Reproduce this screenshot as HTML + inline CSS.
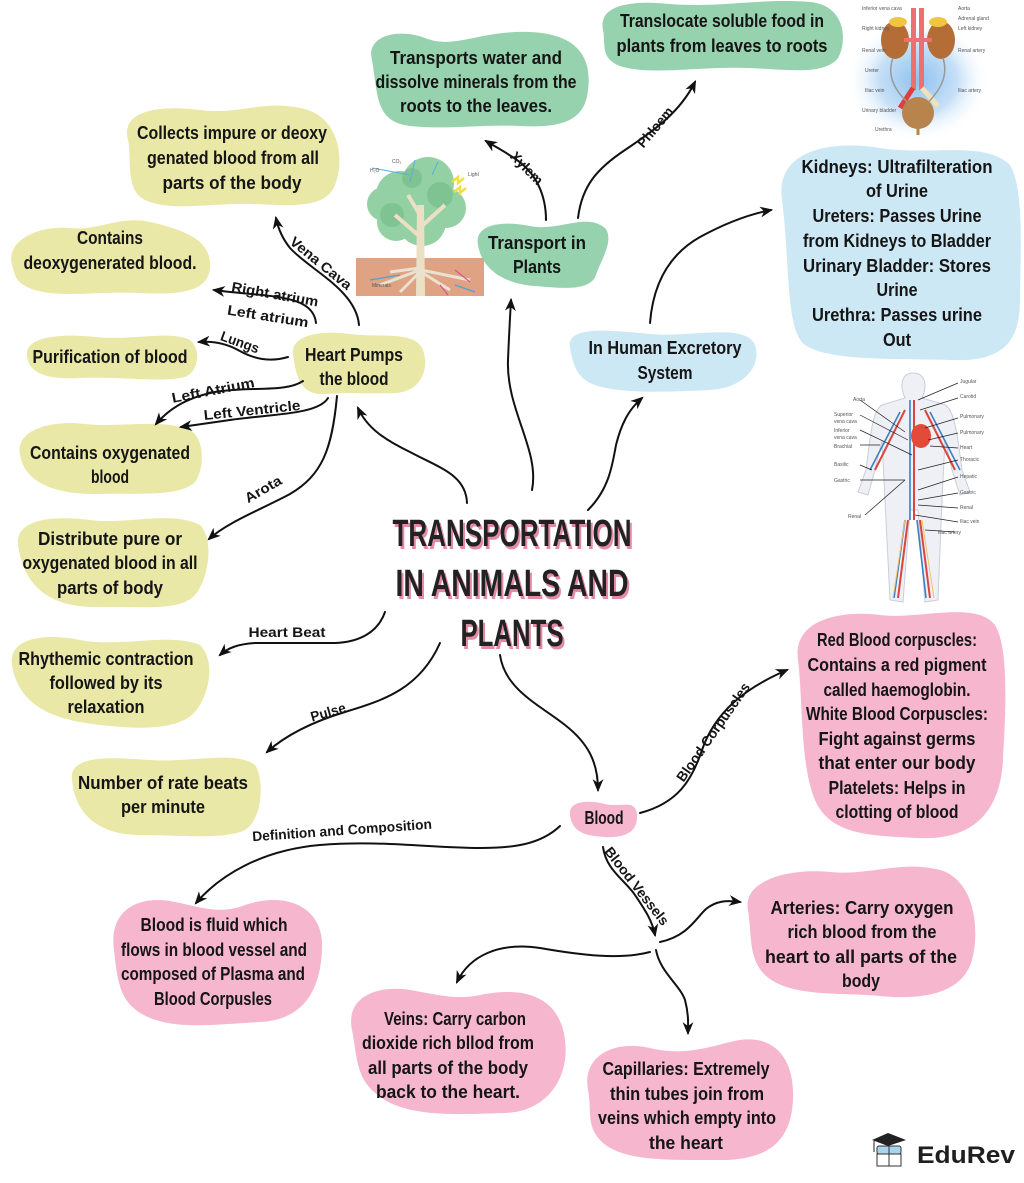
<!DOCTYPE html>
<html>
<head>
<meta charset="utf-8">
<style>
  html,body{margin:0;padding:0;background:#fff;}
  svg{display:block;}
  .t{font-family:"Liberation Sans",sans-serif;font-weight:bold;font-size:18px;text-anchor:middle;fill:#151515;}
  .l{font-family:"Liberation Sans",sans-serif;font-weight:bold;font-size:14px;text-anchor:middle;fill:#151515;}
  .ti{font-family:"Liberation Sans",sans-serif;font-weight:bold;font-size:38px;text-anchor:middle;}
  .tiny{font-family:"Liberation Sans",sans-serif;font-size:5px;fill:#555;}
  .c{fill:none;stroke:#111;stroke-width:2;stroke-linecap:round;}
</style>
</head>
<body>
<svg width="1024" height="1183" viewBox="0 0 1024 1183" xmlns="http://www.w3.org/2000/svg">
<defs>
  <marker id="ah" viewBox="0 0 12 10" refX="10" refY="5" markerWidth="13" markerHeight="11" markerUnits="userSpaceOnUse" orient="auto">
    <path d="M0,0 L12,5 L0,10 L3.5,5 Z" fill="#111"/>
  </marker>
  <radialGradient id="kg" cx="50%" cy="50%" r="50%">
    <stop offset="0" stop-color="#8fc1ef"/>
    <stop offset="0.55" stop-color="#c6e0f7"/>
    <stop offset="1" stop-color="#ffffff" stop-opacity="0"/>
  </radialGradient>
</defs>
<rect width="1024" height="1183" fill="#fff"/>

<!-- ============ BLOBS ============ -->
<g>
  <!-- green -->
  <path fill="#97d2ae" d="M372,60 C365,35 400,28 425,38 C455,50 480,30 530,32 C580,34 592,60 588,90 C585,122 560,128 520,126 C480,124 450,130 410,126 C375,122 378,95 372,60 Z"/>
  <path fill="#97d2ae" d="M603,30 C598,5 630,0 670,4 C720,8 760,-2 810,2 C845,5 848,40 838,58 C825,75 790,70 750,68 C700,66 650,76 620,66 C600,58 606,45 603,30 Z"/>
  <path fill="#97d2ae" d="M478,245 C474,225 500,220 530,226 C560,232 585,212 605,228 C615,240 600,262 596,275 C590,292 560,288 535,286 C505,284 482,270 478,245 Z"/>
  <!-- yellow -->
  <path fill="#e9e8a7" d="M128,140 C120,110 160,105 200,110 C240,115 260,100 300,108 C340,115 345,160 335,185 C325,210 290,205 250,204 C210,203 170,212 145,200 C125,190 132,160 128,140 Z"/>
  <path fill="#e9e8a7" d="M12,265 C5,240 40,225 70,228 C100,231 120,215 150,222 C185,230 212,240 210,268 C208,292 180,295 140,293 C100,291 60,298 35,290 C15,284 15,275 12,265 Z"/>
  <path fill="#e9e8a7" d="M27,355 C25,337 60,333 95,337 C130,341 170,330 190,340 C202,350 198,372 185,377 C160,383 120,376 80,378 C40,380 28,370 27,355 Z"/>
  <path fill="#e9e8a7" d="M293,355 C290,335 320,330 350,334 C380,338 415,330 423,350 C430,370 420,392 395,393 C370,394 345,392 325,394 C300,396 296,375 293,355 Z"/>
  <path fill="#e9e8a7" d="M20,455 C15,430 50,420 85,424 C120,428 160,418 190,430 C206,440 204,470 195,482 C180,497 140,493 100,494 C60,495 25,485 20,455 Z"/>
  <path fill="#e9e8a7" d="M18,545 C15,520 50,515 90,520 C130,525 170,510 200,525 C215,540 208,580 195,595 C180,612 140,606 100,607 C60,608 25,595 18,545 Z"/>
  <path fill="#e9e8a7" d="M12,665 C8,640 40,632 80,640 C120,648 170,632 200,645 C215,660 210,690 198,708 C185,728 150,730 110,726 C70,722 20,715 12,665 Z"/>
  <path fill="#e9e8a7" d="M72,780 C68,755 110,757 150,760 C190,763 235,750 255,765 C265,780 262,820 245,830 C225,840 180,835 140,835 C100,835 75,815 72,780 Z"/>
  <!-- blue -->
  <path fill="#cde8f5" d="M782,200 C775,150 830,140 880,148 C930,156 985,140 1010,165 C1025,190 1020,260 1020,300 C1020,345 1000,362 950,360 C900,358 830,362 805,345 C785,330 790,260 782,200 Z"/>
  <path fill="#cde8f5" d="M570,348 C565,325 610,330 650,334 C690,338 745,322 755,345 C762,365 745,388 710,390 C670,392 620,394 595,385 C575,378 573,362 570,348 Z"/>
  <!-- pink -->
  <path fill="#f5b6ce" d="M570,815 C568,800 590,800 605,804 C620,808 636,798 637,815 C638,832 625,838 605,837 C585,836 572,832 570,815 Z"/>
  <path fill="#f5b6ce" d="M798,660 C792,620 840,610 880,615 C920,620 975,600 995,625 C1010,650 1005,720 1003,760 C1000,815 970,840 920,838 C870,836 830,835 815,800 C800,765 803,700 798,660 Z"/>
  <path fill="#f5b6ce" d="M748,910 C742,880 790,868 830,872 C870,876 900,860 940,870 C975,880 980,930 972,960 C962,995 920,1000 880,996 C840,992 790,998 765,975 C748,958 752,935 748,910 Z"/>
  <path fill="#f5b6ce" d="M114,950 C108,905 145,895 175,902 C200,907 220,915 245,905 C290,890 325,910 322,950 C320,995 300,1020 260,1022 C220,1024 180,1030 150,1018 C120,1005 118,985 114,950 Z"/>
  <path fill="#f5b6ce" d="M352,1030 C345,995 380,985 410,990 C440,995 455,1000 480,995 C530,985 560,1000 565,1040 C570,1080 545,1112 505,1113 C465,1114 415,1118 385,1100 C355,1082 358,1060 352,1030 Z"/>
  <path fill="#f5b6ce" d="M588,1090 C582,1055 615,1040 650,1048 C680,1055 700,1050 730,1042 C775,1030 795,1060 793,1100 C791,1140 770,1160 720,1160 C670,1160 620,1162 600,1140 C586,1125 592,1110 588,1090 Z"/>
</g>

<!-- ============ IMAGES ============ -->
<!-- Tree -->
<g>
  <rect x="356" y="258" width="128" height="38" fill="#dfa384"/>
  <g fill="#93d0a3">
    <circle cx="400" cy="195" r="24"/>
    <circle cx="428" cy="183" r="26"/>
    <circle cx="446" cy="208" r="20"/>
    <circle cx="396" cy="222" r="19"/>
    <circle cx="422" cy="222" r="24"/>
    <circle cx="384" cy="204" r="17"/>
  </g>
  <g fill="#7cc190" opacity="0.8">
    <circle cx="392" cy="215" r="12"/>
    <circle cx="440" cy="195" r="13"/>
    <circle cx="412" cy="178" r="10"/>
  </g>
  <path d="M416,296 L417,205 L424,205 L425,296 Z" fill="#ebdfc6"/>
  <path d="M418,235 L395,215 M423,225 L445,205 M420,215 L408,195" stroke="#ebdfc6" stroke-width="4" fill="none"/>
  <path d="M420,270 L380,285 M420,272 L400,292 M421,272 L450,290 M421,270 L470,280 M420,268 L390,272" stroke="#e9e2d3" stroke-width="3" fill="none"/>
  <path d="M372,168 L410,175 M415,160 L410,182 M438,162 L432,175" stroke="#5ab0d8" stroke-width="1" fill="none"/>
  <path d="M370,280 L400,275 M455,285 L475,292" stroke="#4aa3d0" stroke-width="1.2" fill="none"/>
  <path d="M455,270 L470,282 M440,285 L448,295" stroke="#e2508c" stroke-width="1.2" fill="none"/>
  <path d="M452,182 L458,177 L458,183 L464,178 M454,192 L460,187 L460,193 L466,188" stroke="#efe040" stroke-width="2.5" fill="none"/>
  <text x="370" y="172" class="tiny">H₂O</text>
  <text x="392" y="163" class="tiny">CO₂</text>
  <text x="468" y="176" class="tiny">Light</text>
  <text x="372" y="287" class="tiny">Minerals</text>
</g>

<!-- Kidney -->
<g>
  <ellipse cx="918" cy="80" rx="72" ry="62" fill="url(#kg)"/>
  <ellipse cx="895" cy="40" rx="14" ry="19" fill="#b56d37"/>
  <ellipse cx="941" cy="40" rx="14" ry="19" fill="#b56d37"/>
  <ellipse cx="898" cy="22" rx="9" ry="5" fill="#f0c641"/>
  <ellipse cx="938" cy="22" rx="9" ry="5" fill="#f0c641"/>
  <rect x="911" y="8" width="5" height="82" fill="#ef6e6e"/>
  <rect x="919" y="8" width="5" height="82" fill="#ef6e6e"/>
  <rect x="904" y="38" width="28" height="4" fill="#ef6e6e"/>
  <path d="M913,88 L900,108" stroke="#e23c3c" stroke-width="5" fill="none"/>
  <path d="M922,88 L938,106" stroke="#efe2b8" stroke-width="5" fill="none"/>
  <path d="M893,58 C885,80 900,95 910,105 M943,58 C950,80 935,95 926,105" stroke="#999" stroke-width="1.5" fill="none"/>
  <circle cx="918" cy="113" r="16" fill="#b8844e"/>
  <path d="M918,128 L918,135" stroke="#b8844e" stroke-width="3"/>
  <text x="862" y="10" class="tiny">Inferior vena cava</text>
  <text x="958" y="10" class="tiny">Aorta</text>
  <text x="958" y="20" class="tiny">Adrenal gland</text>
  <text x="862" y="30" class="tiny">Right kidney</text>
  <text x="958" y="30" class="tiny">Left kidney</text>
  <text x="862" y="52" class="tiny">Renal vein</text>
  <text x="958" y="52" class="tiny">Renal artery</text>
  <text x="865" y="72" class="tiny">Ureter</text>
  <text x="865" y="92" class="tiny">Iliac vein</text>
  <text x="958" y="92" class="tiny">Iliac artery</text>
  <text x="862" y="112" class="tiny">Urinary bladder</text>
  <text x="875" y="131" class="tiny">Urethra</text>
</g>

<!-- Human body -->
<g>
  <path d="M913,373 C925,373 928,385 922,398 L945,405 C955,410 958,440 962,470 L970,492 L960,495 L952,470 L945,440 L942,500 L938,600 L925,602 L918,510 L910,510 L903,602 L890,600 L885,500 L882,440 L875,470 L868,495 L858,492 L866,470 C870,440 872,410 882,405 L905,398 C899,385 902,373 913,373 Z" fill="#eef0f5" stroke="#c9ced8" stroke-width="1"/>
  <path d="M914,400 L914,520 M908,520 L898,598 M920,520 L930,598 M905,410 L875,470 M925,410 L955,470" stroke="#d9463b" stroke-width="2" fill="none"/>
  <path d="M910,400 L910,520 M905,520 L894,598 M917,520 L926,598 M900,412 L870,470 M930,412 L960,470" stroke="#3b7fc4" stroke-width="1.6" fill="none"/>
  <path d="M905,520 L893,598 M922,520 L934,598" stroke="#f0c36b" stroke-width="1" fill="none"/>
  <ellipse cx="921" cy="436" rx="10" ry="12" fill="#e44a38"/>
  <g stroke="#222" stroke-width="0.7" fill="none">
    <path d="M860,400 L905,432 M860,415 L908,440 M860,430 L912,455 M860,445 L880,445 M860,465 L872,470 M860,480 L905,480 M958,383 L918,400 M958,398 L920,410 M958,418 L925,428 M958,433 L928,440 M958,448 L930,446 M958,460 L918,470 M958,477 L918,490 M958,493 L918,500 M958,508 L918,505 M958,522 L915,515 M955,532 L925,530 M865,515 L905,480"/>
  </g>
  <text x="853" y="401" class="tiny">Aorta</text>
  <text x="834" y="416" class="tiny">Superior</text>
  <text x="834" y="423" class="tiny">vena cava</text>
  <text x="834" y="432" class="tiny">Inferior</text>
  <text x="834" y="439" class="tiny">vena cava</text>
  <text x="834" y="448" class="tiny">Brachial</text>
  <text x="834" y="466" class="tiny">Basilic</text>
  <text x="834" y="482" class="tiny">Gastric</text>
  <text x="848" y="518" class="tiny">Renal</text>
  <text x="960" y="383" class="tiny">Jugular</text>
  <text x="960" y="398" class="tiny">Carotid</text>
  <text x="960" y="418" class="tiny">Pulmonary</text>
  <text x="960" y="434" class="tiny">Pulmonary</text>
  <text x="960" y="449" class="tiny">Heart</text>
  <text x="960" y="461" class="tiny">Thoracic</text>
  <text x="960" y="478" class="tiny">Hepatic</text>
  <text x="960" y="494" class="tiny">Gastric</text>
  <text x="960" y="509" class="tiny">Renal</text>
  <text x="960" y="523" class="tiny">Iliac vein</text>
  <text x="938" y="534" class="tiny">Iliac artery</text>
</g>

<!-- ============ CONNECTORS ============ -->
<g class="c" marker-end="url(#ah)">
  <path class="c" marker-end="url(#ah)" d="M359,325 C356,290 310,270 290,248 C282,238 278,228 276,218"/>
  <path class="c" marker-end="url(#ah)" d="M316,323 C314,303 292,298 262,295 C240,293 228,292 214,290"/>
  <path class="c" marker-end="url(#ah)" d="M288,357 C268,363 252,358 238,350 C225,343 212,341 199,342"/>
  <path class="c" marker-end="url(#ah)" d="M303,381 C285,393 250,386 215,392 C185,398 168,410 156,424"/>
  <path class="c" marker-end="url(#ah)" d="M328,398 C318,415 270,414 230,420 C210,423 195,425 181,427"/>
  <path class="c" marker-end="url(#ah)" d="M337,396 C332,450 322,475 290,494 C260,510 228,522 209,539"/>
  <path class="c" marker-end="url(#ah)" d="M467,503 C466,475 440,468 410,452 C385,440 367,428 358,408"/>
  <path class="c" marker-end="url(#ah)" d="M532,490 C540,450 506,410 508,360 C509,335 510,318 511,300"/>
  <path class="c" marker-end="url(#ah)" d="M588,510 C608,490 612,468 616,445 C621,425 628,410 642,398"/>
  <path class="c" marker-end="url(#ah)" d="M546,220 C546,195 536,172 514,158 C502,150 494,146 486,141"/>
  <path class="c" marker-end="url(#ah)" d="M578,218 C582,185 598,168 625,150 C655,130 680,112 695,82"/>
  <path class="c" marker-end="url(#ah)" d="M650,323 C653,285 668,255 700,237 C722,225 745,215 771,210"/>
  <path class="c" marker-end="url(#ah)" d="M385,612 C378,632 360,642 335,643 L255,643 C238,644 228,648 220,655"/>
  <path class="c" marker-end="url(#ah)" d="M440,643 C420,688 385,700 345,712 C312,722 286,735 267,752"/>
  <path class="c" marker-end="url(#ah)" d="M500,655 C505,690 540,705 565,725 C588,743 598,762 598,790"/>
  <path class="c" marker-end="url(#ah)" d="M560,826 C540,845 512,848 480,848 C430,848 380,840 320,845 C262,850 220,875 196,903"/>
  <path class="c" marker-end="url(#ah)" d="M640,813 C678,803 692,780 702,750 C715,712 745,688 787,670"/>
  <path class="c" marker-end="url(#ah)" d="M603,847 C606,870 625,880 635,895 C645,910 652,920 655,935"/>
  <path class="c" marker-end="url(#ah)" d="M660,942 C688,936 696,918 706,909 C716,901 726,900 740,902"/>
  <path class="c" marker-end="url(#ah)" d="M650,952 C620,960 580,955 540,948 C500,942 470,955 457,982"/>
  <path class="c" marker-end="url(#ah)" d="M656,950 C660,972 680,985 685,1000 C689,1015 688,1025 688,1033"/>
</g>

<!-- ============ CONNECTOR LABELS ============ -->
<g>
  <text class="l" transform="translate(321,263) rotate(39)" x="0" y="5" textLength="75" lengthAdjust="spacingAndGlyphs">Vena Cava</text>
  <text class="l" transform="translate(275,294) rotate(10)" x="0" y="5" textLength="88" lengthAdjust="spacingAndGlyphs">Right atrium</text>
  <text class="l" transform="translate(268,316) rotate(9)" x="0" y="5" textLength="82" lengthAdjust="spacingAndGlyphs">Left atrium</text>
  <text class="l" transform="translate(240,342) rotate(20)" x="0" y="5" textLength="40" lengthAdjust="spacingAndGlyphs">Lungs</text>
  <text class="l" transform="translate(213,390) rotate(-11)" x="0" y="5" textLength="84" lengthAdjust="spacingAndGlyphs">Left Atrium</text>
  <text class="l" transform="translate(252,410) rotate(-6)" x="0" y="5" textLength="97" lengthAdjust="spacingAndGlyphs">Left Ventricle</text>
  <text class="l" transform="translate(263,489) rotate(-30)" x="0" y="5" textLength="40" lengthAdjust="spacingAndGlyphs">Arota</text>
  <text class="l" transform="translate(287,632)" x="0" y="5" textLength="77" lengthAdjust="spacingAndGlyphs">Heart Beat</text>
  <text class="l" transform="translate(328,712) rotate(-16)" x="0" y="5" textLength="36" lengthAdjust="spacingAndGlyphs">Pulse</text>
  <text class="l" transform="translate(342,830) rotate(-4)" x="0" y="5" textLength="180" lengthAdjust="spacingAndGlyphs">Definition and Composition</text>
  <text class="l" transform="translate(527,168) rotate(46)" x="0" y="5" textLength="40" lengthAdjust="spacingAndGlyphs">Xylem</text>
  <text class="l" transform="translate(655,127) rotate(-50)" x="0" y="5" textLength="48" lengthAdjust="spacingAndGlyphs">Phloem</text>
  <text class="l" transform="translate(713,732) rotate(-55)" x="0" y="5" textLength="117" lengthAdjust="spacingAndGlyphs">Blood Corpuscles</text>
  <text class="l" transform="translate(637,886) rotate(52)" x="0" y="5" textLength="95" lengthAdjust="spacingAndGlyphs">Blood Vessels</text>
</g>

<!-- ============ NODE TEXT ============ -->
<g>
  <!-- green -->
  <text class="t" x="476" y="64" textLength="172" lengthAdjust="spacingAndGlyphs">Transports water and</text>
  <text class="t" x="476" y="88" textLength="201" lengthAdjust="spacingAndGlyphs">dissolve minerals from the</text>
  <text class="t" x="476" y="112" textLength="152" lengthAdjust="spacingAndGlyphs">roots to the leaves.</text>

  <text class="t" x="722" y="27" textLength="204" lengthAdjust="spacingAndGlyphs">Translocate soluble food in</text>
  <text class="t" x="722" y="52" textLength="211" lengthAdjust="spacingAndGlyphs">plants from leaves to roots</text>

  <text class="t" x="537" y="249" textLength="98" lengthAdjust="spacingAndGlyphs">Transport in</text>
  <text class="t" x="537" y="273" textLength="48" lengthAdjust="spacingAndGlyphs">Plants</text>

  <!-- yellow -->
  <text class="t" x="232" y="139" textLength="190" lengthAdjust="spacingAndGlyphs">Collects impure or deoxy</text>
  <text class="t" x="233" y="164" textLength="172" lengthAdjust="spacingAndGlyphs">genated blood from all</text>
  <text class="t" x="232" y="189" textLength="139" lengthAdjust="spacingAndGlyphs">parts of the body</text>

  <text class="t" x="110" y="244" textLength="66" lengthAdjust="spacingAndGlyphs">Contains</text>
  <text class="t" x="110" y="269" textLength="173" lengthAdjust="spacingAndGlyphs">deoxygenerated blood.</text>

  <text class="t" x="110" y="363" textLength="155" lengthAdjust="spacingAndGlyphs">Purification of blood</text>

  <text class="t" x="354" y="361" textLength="98" lengthAdjust="spacingAndGlyphs">Heart Pumps</text>
  <text class="t" x="354" y="385" textLength="69" lengthAdjust="spacingAndGlyphs">the blood</text>

  <text class="t" x="110" y="459" textLength="160" lengthAdjust="spacingAndGlyphs">Contains oxygenated</text>
  <text class="t" x="110" y="483" textLength="38" lengthAdjust="spacingAndGlyphs">blood</text>

  <text class="t" x="110" y="545" textLength="144" lengthAdjust="spacingAndGlyphs">Distribute pure or</text>
  <text class="t" x="110" y="569" textLength="175" lengthAdjust="spacingAndGlyphs">oxygenated blood in all</text>
  <text class="t" x="110" y="594" textLength="106" lengthAdjust="spacingAndGlyphs">parts of body</text>

  <text class="t" x="106" y="665" textLength="175" lengthAdjust="spacingAndGlyphs">Rhythemic contraction</text>
  <text class="t" x="106" y="689" textLength="113" lengthAdjust="spacingAndGlyphs">followed by its</text>
  <text class="t" x="106" y="713" textLength="77" lengthAdjust="spacingAndGlyphs">relaxation</text>

  <text class="t" x="163" y="789" textLength="170" lengthAdjust="spacingAndGlyphs">Number of rate beats</text>
  <text class="t" x="163" y="813" textLength="84" lengthAdjust="spacingAndGlyphs">per minute</text>

  <!-- blue -->
  <text class="t" x="897" y="173" textLength="191" lengthAdjust="spacingAndGlyphs">Kidneys: Ultrafilteration</text>
  <text class="t" x="897" y="197" textLength="62" lengthAdjust="spacingAndGlyphs">of Urine</text>
  <text class="t" x="897" y="222" textLength="169" lengthAdjust="spacingAndGlyphs">Ureters: Passes Urine</text>
  <text class="t" x="897" y="247" textLength="188" lengthAdjust="spacingAndGlyphs">from Kidneys to Bladder</text>
  <text class="t" x="897" y="272" textLength="188" lengthAdjust="spacingAndGlyphs">Urinary Bladder: Stores</text>
  <text class="t" x="897" y="296" textLength="41" lengthAdjust="spacingAndGlyphs">Urine</text>
  <text class="t" x="897" y="321" textLength="170" lengthAdjust="spacingAndGlyphs">Urethra: Passes urine</text>
  <text class="t" x="897" y="346" textLength="28" lengthAdjust="spacingAndGlyphs">Out</text>

  <text class="t" x="665" y="354" textLength="153" lengthAdjust="spacingAndGlyphs">In Human Excretory</text>
  <text class="t" x="665" y="379" textLength="55" lengthAdjust="spacingAndGlyphs">System</text>

  <!-- pink -->
  <text class="t" x="604" y="824" textLength="39" lengthAdjust="spacingAndGlyphs">Blood</text>

  <text class="t" x="897" y="646" textLength="160" lengthAdjust="spacingAndGlyphs">Red Blood corpuscles:</text>
  <text class="t" x="897" y="671" textLength="179" lengthAdjust="spacingAndGlyphs">Contains a red pigment</text>
  <text class="t" x="897" y="696" textLength="147" lengthAdjust="spacingAndGlyphs">called haemoglobin.</text>
  <text class="t" x="897" y="720" textLength="182" lengthAdjust="spacingAndGlyphs">White Blood Corpuscles:</text>
  <text class="t" x="897" y="745" textLength="157" lengthAdjust="spacingAndGlyphs">Fight against germs</text>
  <text class="t" x="897" y="769" textLength="157" lengthAdjust="spacingAndGlyphs">that enter our body</text>
  <text class="t" x="897" y="794" textLength="137" lengthAdjust="spacingAndGlyphs">Platelets: Helps in</text>
  <text class="t" x="897" y="818" textLength="123" lengthAdjust="spacingAndGlyphs">clotting of blood</text>

  <text class="t" x="862" y="914" textLength="183" lengthAdjust="spacingAndGlyphs">Arteries: Carry oxygen</text>
  <text class="t" x="862" y="938" textLength="149" lengthAdjust="spacingAndGlyphs">rich blood from the</text>
  <text class="t" x="861" y="963" textLength="192" lengthAdjust="spacingAndGlyphs">heart to all parts of the</text>
  <text class="t" x="861" y="987" textLength="38" lengthAdjust="spacingAndGlyphs">body</text>

  <text class="t" x="214" y="931" textLength="147" lengthAdjust="spacingAndGlyphs">Blood is fluid which</text>
  <text class="t" x="214" y="956" textLength="186" lengthAdjust="spacingAndGlyphs">flows in blood vessel and</text>
  <text class="t" x="213" y="980" textLength="184" lengthAdjust="spacingAndGlyphs">composed of Plasma and</text>
  <text class="t" x="213" y="1005" textLength="118" lengthAdjust="spacingAndGlyphs">Blood Corpusles</text>

  <text class="t" x="455" y="1025" textLength="142" lengthAdjust="spacingAndGlyphs">Veins: Carry carbon</text>
  <text class="t" x="448" y="1049" textLength="172" lengthAdjust="spacingAndGlyphs">dioxide rich bllod from</text>
  <text class="t" x="448" y="1074" textLength="160" lengthAdjust="spacingAndGlyphs">all parts of the body</text>
  <text class="t" x="448" y="1098" textLength="144" lengthAdjust="spacingAndGlyphs">back to the heart.</text>

  <text class="t" x="686" y="1075" textLength="167" lengthAdjust="spacingAndGlyphs">Capillaries: Extremely</text>
  <text class="t" x="687" y="1100" textLength="154" lengthAdjust="spacingAndGlyphs">thin tubes join from</text>
  <text class="t" x="687" y="1124" textLength="178" lengthAdjust="spacingAndGlyphs">veins which empty into</text>
  <text class="t" x="686" y="1149" textLength="74" lengthAdjust="spacingAndGlyphs">the heart</text>
</g>

<!-- ============ TITLE ============ -->
<g>
  <text class="ti" x="514" y="549" fill="#e58aa6" textLength="239" lengthAdjust="spacingAndGlyphs">TRANSPORTATION</text>
  <text class="ti" x="514" y="599" fill="#e58aa6" textLength="233" lengthAdjust="spacingAndGlyphs">IN ANIMALS AND</text>
  <text class="ti" x="514" y="649" fill="#e58aa6" textLength="103" lengthAdjust="spacingAndGlyphs">PLANTS</text>
  <text class="ti" x="512" y="546" fill="#222" textLength="239" lengthAdjust="spacingAndGlyphs">TRANSPORTATION</text>
  <text class="ti" x="512" y="596" fill="#222" textLength="233" lengthAdjust="spacingAndGlyphs">IN ANIMALS AND</text>
  <text class="ti" x="512" y="646" fill="#222" textLength="103" lengthAdjust="spacingAndGlyphs">PLANTS</text>
</g>

<!-- ============ LOGO ============ -->
<g>
  <path d="M872,1140 L888,1133 L906,1140 L888,1146 Z" fill="#222"/>
  <path d="M874,1141 L874,1152" stroke="#222" stroke-width="1"/>
  <rect x="877" y="1146" width="24" height="8" rx="2" fill="#a9d4ee" stroke="#333" stroke-width="1"/>
  <rect x="877" y="1154" width="24" height="12" fill="#fff" stroke="#333" stroke-width="1"/>
  <path d="M889,1146 L889,1166" stroke="#333" stroke-width="1"/>
  <text x="917" y="1163" font-family="Liberation Sans, sans-serif" font-size="24" font-weight="bold" fill="#1f1f1f" textLength="98" lengthAdjust="spacingAndGlyphs">EduRev</text>
</g>
</svg>
</body>
</html>
